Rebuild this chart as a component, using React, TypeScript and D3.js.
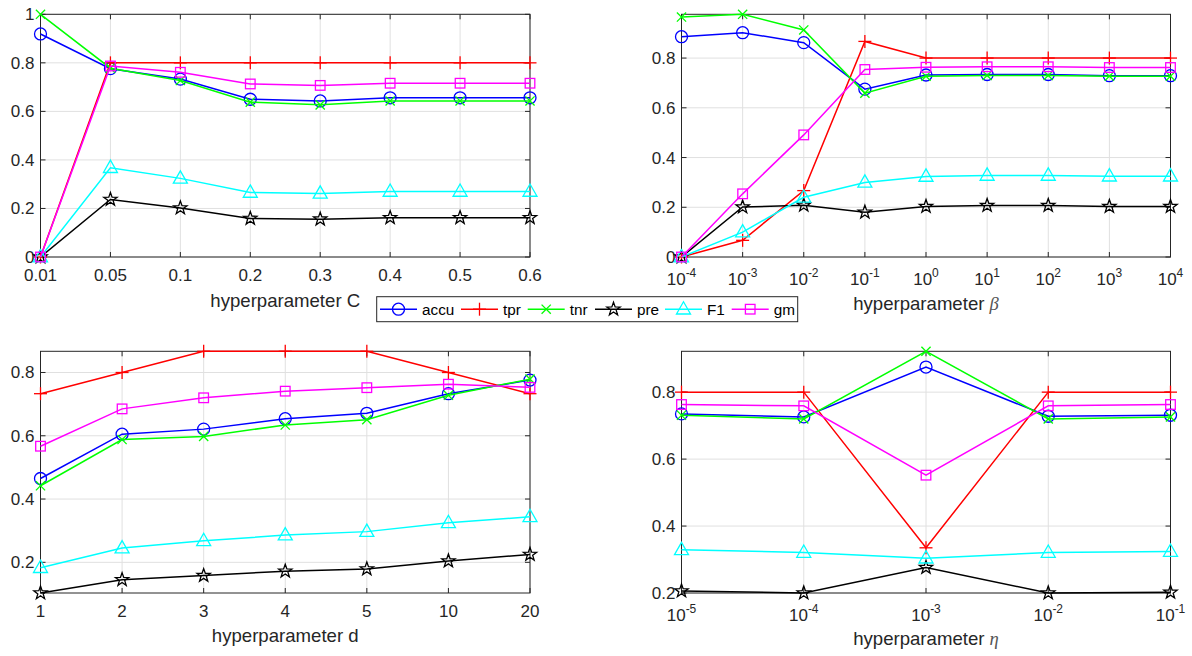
import React from "react";
import * as d3 from "d3";

// ---------- data ----------
const metricNames = ["accu", "tpr", "tnr", "pre", "F1", "gm"];

// panel 1: hyperparameter C
const cLabels = ["0.01", "0.05", "0.1", "0.2", "0.3", "0.4", "0.5", "0.6"];
const cAccu = [0.919, 0.776, 0.733, 0.65, 0.643, 0.656, 0.656, 0.656];
const cTpr = [0, 0.8, 0.8, 0.8, 0.8, 0.8, 0.8, 0.8];
const cTnr = [1.0, 0.778, 0.727, 0.638, 0.627, 0.643, 0.643, 0.643];
const cPre = [0, 0.237, 0.202, 0.159, 0.156, 0.162, 0.162, 0.162];
const cF1 = [0, 0.368, 0.324, 0.266, 0.262, 0.27, 0.27, 0.27];
const cGm = [0, 0.787, 0.761, 0.713, 0.707, 0.716, 0.716, 0.716];
const cYTicks = [0, 0.2, 0.4, 0.6, 0.8, 1];

// panel 2: hyperparameter beta (10^k)
const betaExps = ["-4", "-3", "-2", "-1", "0", "1", "2", "3", "4"];
const bAccu = [0.886, 0.902, 0.862, 0.675, 0.732, 0.734, 0.734, 0.729, 0.729];
const bTpr = [0, 0.067, 0.267, 0.867, 0.8, 0.8, 0.8, 0.8, 0.8];
const bTnr = [0.965, 0.976, 0.913, 0.659, 0.727, 0.73, 0.73, 0.727, 0.727];
const bPre = [0, 0.201, 0.208, 0.18, 0.203, 0.207, 0.207, 0.203, 0.203];
const bF1 = [0, 0.1, 0.24, 0.3, 0.324, 0.328, 0.328, 0.325, 0.325];
const bGm = [0, 0.254, 0.491, 0.754, 0.763, 0.765, 0.765, 0.762, 0.762];
const bYTicks = [0, 0.2, 0.4, 0.6, 0.8];

// panel 3: hyperparameter d
const dLabels = ["1", "2", "3", "4", "5", "10", "20"];
const dAccu = [0.465, 0.605, 0.621, 0.654, 0.671, 0.733, 0.776];
const dTpr = [0.733, 0.8, 0.867, 0.867, 0.867, 0.8, 0.733];
const dTnr = [0.442, 0.588, 0.598, 0.634, 0.651, 0.728, 0.779];
const dPre = [0.103, 0.145, 0.158, 0.172, 0.179, 0.204, 0.225];
const dF1 = [0.183, 0.245, 0.268, 0.286, 0.297, 0.325, 0.344];
const dGm = [0.567, 0.685, 0.72, 0.741, 0.752, 0.763, 0.753];
const dYTicks = [0.2, 0.4, 0.6, 0.8];

// panel 4: hyperparameter eta (10^k)
const etaExps = ["-5", "-4", "-3", "-2", "-1"];
const eAccu = [0.735, 0.726, 0.875, 0.728, 0.731];
const eTpr = [0.8, 0.8, 0.335, 0.8, 0.8];
const eTnr = [0.731, 0.72, 0.922, 0.72, 0.726];
const ePre = [0.206, 0.2, 0.276, 0.2, 0.202];
const eF1 = [0.329, 0.321, 0.304, 0.321, 0.324];
const eGm = [0.763, 0.759, 0.552, 0.759, 0.763];
const eYTicks = [0.2, 0.4, 0.6, 0.8];

// ---------- styles ----------
const FONT = "'Liberation Sans', Arial, Helvetica, sans-serif";
const AX = "#262626";
const GRID = "#e0e0e0";
const colors: Record<string, string> = {
  accu: "#0000ff",
  tpr: "#ff0000",
  tnr: "#00ff00",
  pre: "#000000",
  F1: "#00ffff",
  gm: "#ff00ff",
};
const markerOf: Record<string, string> = {
  accu: "circle",
  tpr: "plus",
  tnr: "cross",
  pre: "star",
  F1: "triangle",
  gm: "square",
};

function starPath(R: number, r: number) {
  const pts: string[] = [];
  for (let i = 0; i < 10; i++) {
    const rad = i % 2 === 0 ? R : r;
    const a = -Math.PI / 2 + (i * Math.PI) / 5;
    pts.push(`${(rad * Math.cos(a)).toFixed(2)},${(rad * Math.sin(a)).toFixed(2)}`);
  }
  return "M" + pts.join("L") + "Z";
}
const STAR = starPath(7, 2.8);

function Marker({ type, x, y, color }: { type: string; x: number; y: number; color: string }) {
  const sw = 1.3;
  const common = { fill: "none", stroke: color, strokeWidth: sw };
  const t = `translate(${x},${y})`;
  switch (type) {
    case "circle":
      return <circle cx={x} cy={y} r={6} {...common} />;
    case "plus":
      return (
        <g transform={t} {...common}>
          <line x1={-6.5} y1={0} x2={6.5} y2={0} />
          <line x1={0} y1={-6.5} x2={0} y2={6.5} />
        </g>
      );
    case "cross":
      return (
        <g transform={t} {...common}>
          <line x1={-4.6} y1={-4.6} x2={4.6} y2={4.6} />
          <line x1={-4.6} y1={4.6} x2={4.6} y2={-4.6} />
        </g>
      );
    case "star":
      return <path transform={t} d={STAR} {...common} />;
    case "triangle":
      return <path transform={t} d="M0,-7.5L7,4.8L-7,4.8Z" {...common} />;
    case "square":
      return <rect x={x - 4.8} y={y - 4.8} width={9.6} height={9.6} {...common} />;
    default:
      return null;
  }
}

type Box = { x0: number; x1: number; y0: number; y1: number };

function Panel({
  box,
  xLabels,
  isLog,
  series,
  yTicks,
  xlabel,
  xlabelY,
}: {
  box: Box;
  xLabels: string[];
  isLog: boolean;
  series: number[][];
  yTicks: number[];
  xlabel: React.ReactNode;
  xlabelY: number;
}) {
  const idx = xLabels.map((_, i) => i);
  const xs = d3.scalePoint<number>().domain(idx).range([box.x0, box.x1]).padding(0);
  const all = series.flat();
  const ext = d3.extent(all) as [number, number];
  const ys = d3.scaleLinear().domain(ext).range([box.y1, box.y0]);
  const fmt = d3.format("~g");
  const line = d3
    .line<number>()
    .x((_, i) => xs(i) as number)
    .y((v) => ys(v));
  const tickLen = 5;
  return (
    <g>
      {/* grid */}
      {idx.map((i) => (
        <line key={"gx" + i} x1={xs(i)} x2={xs(i)} y1={box.y0} y2={box.y1} stroke={GRID} strokeWidth={1} />
      ))}
      {yTicks.map((t) => (
        <line key={"gy" + t} x1={box.x0} x2={box.x1} y1={ys(t)} y2={ys(t)} stroke={GRID} strokeWidth={1} />
      ))}
      {/* box */}
      <rect x={box.x0} y={box.y0} width={box.x1 - box.x0} height={box.y1 - box.y0} fill="none" stroke={AX} strokeWidth={1} />
      {idx.map((i) => (
        <g key={"tx" + i} stroke={AX} strokeWidth={1}>
          <line x1={xs(i)} x2={xs(i)} y1={box.y1} y2={box.y1 - tickLen} />
          <line x1={xs(i)} x2={xs(i)} y1={box.y0} y2={box.y0 + tickLen} />
        </g>
      ))}
      {yTicks.map((t) => (
        <g key={"ty" + t} stroke={AX} strokeWidth={1}>
          <line x1={box.x0} x2={box.x0 + tickLen} y1={ys(t)} y2={ys(t)} />
          <line x1={box.x1} x2={box.x1 - tickLen} y1={ys(t)} y2={ys(t)} />
        </g>
      ))}
      {/* tick labels */}
      {yTicks.map((t) => (
        <text key={"yl" + t} x={box.x0 - 6} y={ys(t) + 6} textAnchor="end" fontSize={17} fill={AX} fontFamily={FONT}>
          {fmt(t)}
        </text>
      ))}
      {xLabels.map((lab, i) =>
        isLog ? (
          <text key={"xl" + i} x={xs(i)} y={box.y1 + 28} textAnchor="middle" fontSize={17} fill={AX} fontFamily={FONT}>
            <tspan>10</tspan>
            <tspan dy={-8} fontSize={12}>
              {lab}
            </tspan>
          </text>
        ) : (
          <text key={"xl" + i} x={xs(i)} y={box.y1 + 24} textAnchor="middle" fontSize={17} fill={AX} fontFamily={FONT}>
            {lab}
          </text>
        )
      )}
      {/* axis label */}
      <text x={(box.x0 + box.x1) / 2} y={xlabelY} textAnchor="middle" fontSize={18.6} fill={AX} fontFamily={FONT}>
        {xlabel}
      </text>
      {/* data */}
      {series.map((vals, si) => {
        const name = metricNames[si];
        const c = colors[name];
        return (
          <g key={name}>
            <path d={line(vals) || ""} fill="none" stroke={c} strokeWidth={1.5} />
            {vals.map((v, i) => (
              <Marker key={i} type={markerOf[name]} x={xs(i) as number} y={ys(v)} color={c} />
            ))}
          </g>
        );
      })}
    </g>
  );
}

const legendItemX = [380, 461, 527.7, 595, 665, 731.7];

function Legend() {
  const bx0 = 376.7,
    bx1 = 797.7,
    by0 = 296.7,
    by1 = 321.7;
  const cy = (by0 + by1) / 2;
  const lineLen = 37;
  return (
    <g>
      <rect x={bx0} y={by0} width={bx1 - bx0} height={by1 - by0} fill="#ffffff" stroke={AX} strokeWidth={1} />
      {metricNames.map((name, i) => {
        const lx = legendItemX[i];
        const c = colors[name];
        return (
          <g key={name}>
            <line x1={lx} x2={lx + lineLen} y1={cy} y2={cy} stroke={c} strokeWidth={1.5} />
            <Marker type={markerOf[name]} x={lx + lineLen / 2} y={cy} color={c} />
            <text x={lx + lineLen + 5} y={cy + 5.5} fontSize={15.3} fill="#000" fontFamily={FONT}>
              {name}
            </text>
          </g>
        );
      })}
    </g>
  );
}

export default function App() {
  const left: [number, number] = [40.5, 530];
  const right: [number, number] = [681.5, 1170.5];
  const top: [number, number] = [14.3, 257];
  const bottom: [number, number] = [351.3, 593];
  const greek = (ch: string) => (
    <tspan fontFamily="'Liberation Serif', 'DejaVu Serif', serif" fontStyle="italic" fill="#555">
      {ch}
    </tspan>
  );
  return (
    <svg width={1192} height={656} style={{ position: "absolute", left: 0, top: 0, background: "#fff" }}>
      <rect x={0} y={0} width={1192} height={656} fill="#fff" />
      <Panel
        box={{ x0: left[0], x1: left[1], y0: top[0], y1: top[1] }}
        xLabels={cLabels}
        isLog={false}
        series={[cAccu, cTpr, cTnr, cPre, cF1, cGm]}
        yTicks={cYTicks}
        xlabel="hyperparameter C"
        xlabelY={307}
      />
      <Panel
        box={{ x0: right[0], x1: right[1], y0: top[0], y1: top[1] }}
        xLabels={betaExps}
        isLog={true}
        series={[bAccu, bTpr, bTnr, bPre, bF1, bGm]}
        yTicks={bYTicks}
        xlabel={<>hyperparameter {greek("β")}</>}
        xlabelY={310}
      />
      <Panel
        box={{ x0: left[0], x1: left[1], y0: bottom[0], y1: bottom[1] }}
        xLabels={dLabels}
        isLog={false}
        series={[dAccu, dTpr, dTnr, dPre, dF1, dGm]}
        yTicks={dYTicks}
        xlabel="hyperparameter d"
        xlabelY={642}
      />
      <Panel
        box={{ x0: right[0], x1: right[1], y0: bottom[0], y1: bottom[1] }}
        xLabels={etaExps}
        isLog={true}
        series={[eAccu, eTpr, eTnr, ePre, eF1, eGm]}
        yTicks={eYTicks}
        xlabel={<>hyperparameter {greek("η")}</>}
        xlabelY={645}
      />
      <Legend />
    </svg>
  );
}
